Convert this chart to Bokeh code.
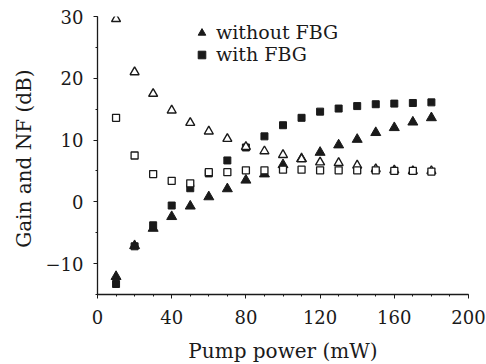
from bokeh.plotting import figure
from bokeh.models import Legend, LegendItem, FixedTicker, Range1d
from bokeh.embed import file_html
from bokeh.resources import INLINE

pump_power = [10, 20, 30, 40, 50, 60, 70, 80, 90, 100, 110, 120, 130, 140, 150, 160, 170, 180]
gain_without_fbg = [-12.1, -7.1, -4.3, -2.4, -0.7, 0.8, 2.1, 3.5, 4.5, 6.0, 7.0, 8.0, 9.2, 10.1, 11.2, 12.0, 12.9, 13.6]
gain_with_fbg = [-13.3, -7.2, -3.8, -0.6, 2.2, 4.6, 6.7, 8.8, 10.6, 12.4, 13.6, 14.6, 15.1, 15.5, 15.8, 15.9, 16.0, 16.1]
nf_without_fbg = [29.6, 21.0, 17.5, 14.8, 12.8, 11.4, 10.2, 8.9, 8.2, 7.6, 6.9, 6.4, 6.3, 5.9, 5.3, 5.1, 5.0, 5.0]
nf_with_fbg = [13.6, 7.5, 4.5, 3.4, 3.0, 4.8, 4.8, 5.1, 5.1, 5.2, 5.2, 5.1, 5.1, 5.1, 5.1, 5.0, 5.0, 4.9]

x_ticks = [0, 40, 80, 120, 160, 200]
y_ticks = [-10, 0, 10, 20, 30]

FONT = "DejaVu Serif"
INK = "#1a1a1a"

p = figure(frame_width=371, frame_height=278,
           min_border_left=97, min_border_right=18, min_border_top=16, min_border_bottom=70,
           x_range=Range1d(0, 200), y_range=Range1d(-15, 30),
           output_backend="svg", toolbar_location=None)
p.outline_line_color = None
p.grid.visible = False
p.background_fill_color = "white"

for ax in (p.xaxis[0], p.yaxis[0]):
    ax.axis_line_color = INK
    ax.axis_line_width = 1.3
    ax.major_tick_line_color = INK
    ax.minor_tick_line_color = INK
    ax.major_tick_in = 0
    ax.minor_tick_in = 0
    ax.major_tick_out = 4
    ax.minor_tick_out = 2
    ax.major_label_text_font = FONT
    ax.major_label_text_font_size = "18px"
    ax.major_label_text_color = INK
    ax.axis_label_text_font = FONT
    ax.axis_label_text_font_size = "20px"
    ax.axis_label_text_font_style = "normal"
    ax.axis_label_text_color = INK

p.xaxis.ticker = FixedTicker(ticks=x_ticks, minor_ticks=list(range(0, 201, 10)))
p.yaxis.ticker = FixedTicker(ticks=y_ticks, minor_ticks=list(range(-15, 31, 5)))
p.xaxis.major_label_standoff = 11
p.yaxis.major_label_standoff = 10
p.xaxis.axis_label = "Pump power (mW)"
p.yaxis.axis_label = "Gain  and NF (dB)"
p.xaxis.axis_label_standoff = 12
p.yaxis.axis_label_standoff = 7

r_gw = p.scatter(pump_power, gain_without_fbg, marker="triangle", size=10,
                 fill_color=INK, line_color=INK)
r_gf = p.scatter(pump_power, gain_with_fbg, marker="square", size=7,
                 fill_color=INK, line_color=INK)
p.scatter(pump_power, nf_without_fbg, marker="triangle", size=9,
          fill_color="white", line_color=INK, line_width=1.4)
p.scatter(pump_power, nf_with_fbg, marker="square", size=7,
          fill_color="white", line_color=INK, line_width=1.3)

legend_style = dict(orientation="vertical", border_line_alpha=0, background_fill_alpha=0,
                    padding=0, margin=0, spacing=0,
                    glyph_width=19, glyph_height=19, label_height=19, label_standoff=5,
                    label_text_font=FONT, label_text_font_size="19px", label_text_color=INK)
legend_a = Legend(items=[LegendItem(label="without FBG", renderers=[r_gw])],
                  location=(95, 251), **legend_style)
legend_b = Legend(items=[LegendItem(label="with FBG", renderers=[r_gf])],
                  location=(95, 229), **legend_style)
p.add_layout(legend_a, "center")
p.add_layout(legend_b, "center")

open("out.html", "w").write(file_html(p, INLINE))
